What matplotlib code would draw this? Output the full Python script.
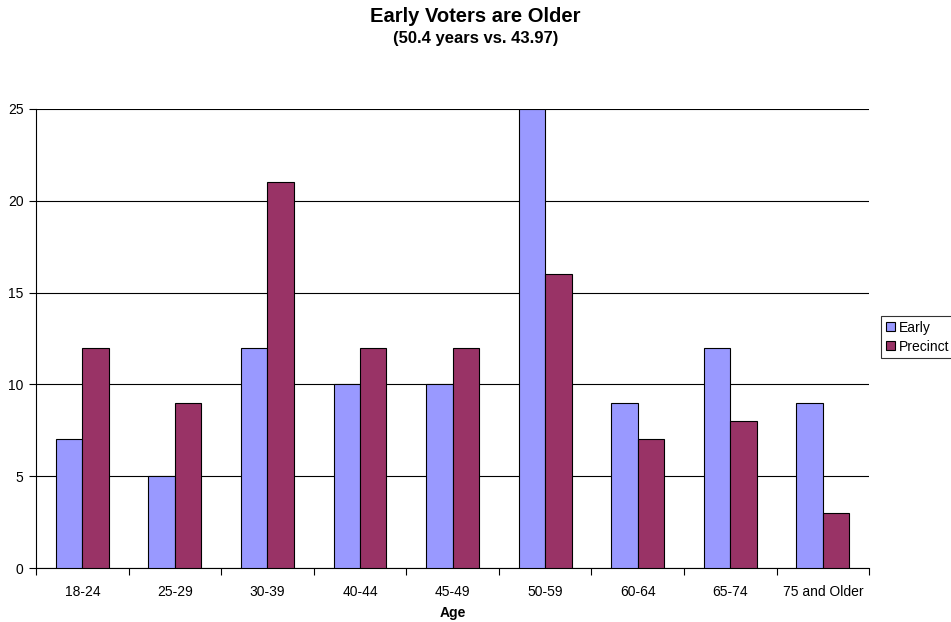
import matplotlib
matplotlib.use("Agg")
import matplotlib.pyplot as plt
import numpy as np

plt.rcParams["font.family"] = ["Liberation Sans", "DejaVu Sans"]

age_groups = ["18-24", "25-29", "30-39", "40-44", "45-49", "50-59", "60-64", "65-74", "75 and Older"]
early = [7, 5, 12, 10, 10, 25, 9, 12, 9]
precinct = [12, 9, 21, 12, 12, 16, 7, 8, 3]

fig = plt.figure(figsize=(9.51, 6.22), dpi=100)
ax = fig.add_axes([0.0379, 0.0868, 0.876, 0.738])

x = np.arange(len(age_groups))
w = 1 / 3.5  # Excel-style gap width of 150%
ax.bar(x - w / 2, early, w, color="#9999FF", edgecolor="black", linewidth=0.8, label="Early", zorder=3)
ax.bar(x + w / 2, precinct, w, color="#993366", edgecolor="black", linewidth=0.8, label="Precinct", zorder=3)

ax.set_xlim(-0.5, len(age_groups) - 0.5)
ax.set_ylim(0, 25)
ax.set_yticks(range(0, 26, 5))
ax.yaxis.grid(True, color="black", linewidth=0.8, zorder=0)
ax.set_axisbelow(True)

ax.set_xticks(x)
ax.set_xticklabels(age_groups, fontsize=10)
ax.set_xticks(np.arange(-0.5, len(age_groups)), minor=True)
ax.tick_params(axis="x", which="major", length=0, pad=12)
ax.tick_params(axis="x", which="minor", length=5, direction="out", width=0.8)
ax.tick_params(axis="y", length=5, direction="out", width=0.8, labelsize=10, pad=4)

for side in ("top", "right"):
    ax.spines[side].set_visible(False)
for side in ("left", "bottom"):
    ax.spines[side].set_linewidth(0.8)

ax.set_xlabel("Age", fontsize=10, fontweight="bold", labelpad=5)

fig.text(0.5, 0.973, "Early Voters are Older", ha="center", va="center", fontsize=14.5, fontweight="bold")
fig.text(0.5, 0.938, "(50.4 years vs. 43.97)", ha="center", va="center", fontsize=12, fontweight="bold")

leg = fig.legend(loc="center left", bbox_to_anchor=(0.9264, 0.458), fontsize=10, frameon=True,
                 fancybox=False, edgecolor="black", handlelength=0.65, handleheight=0.65,
                 handletextpad=0.3, borderpad=0.35, labelspacing=0.35, borderaxespad=0)
leg.get_frame().set_linewidth(0.8)

fig.savefig("out.png", dpi=100)
